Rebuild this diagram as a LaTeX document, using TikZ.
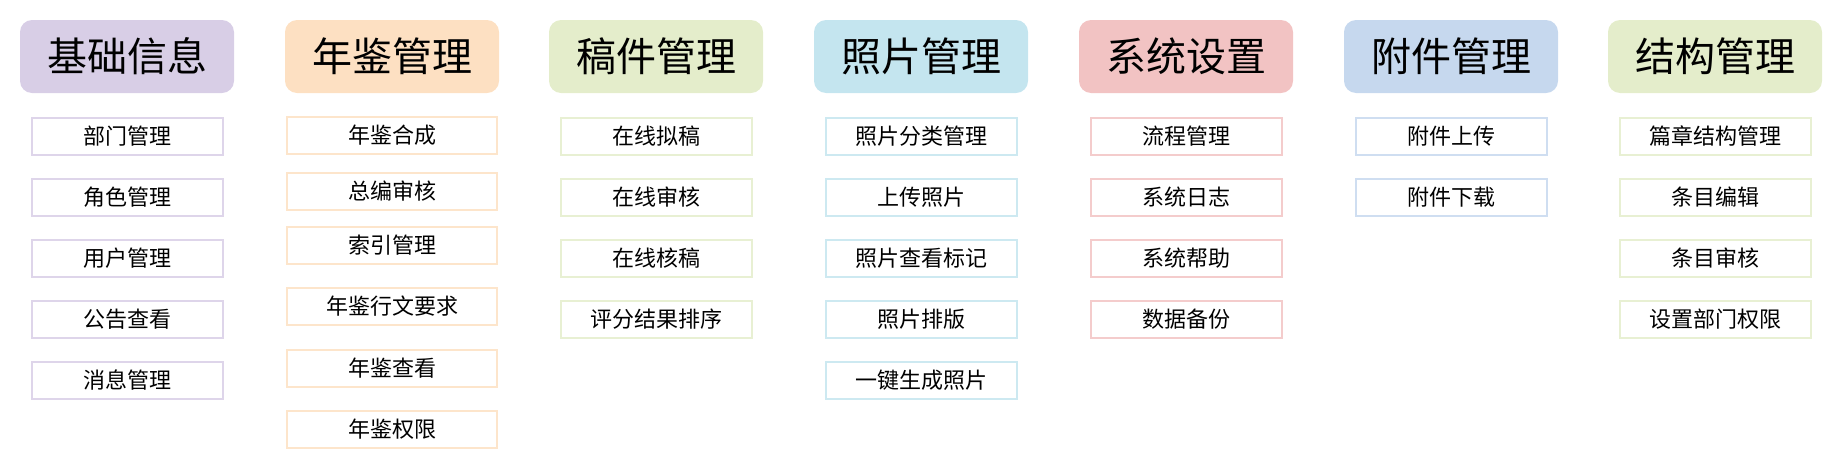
\documentclass[tikz,border=0pt]{standalone}
\usepackage{fontspec}
\newfontfamily\cjk{Noto Sans CJK SC}

\definecolor{infocol}{RGB}{216,206,230}
\definecolor{yearcol}{RGB}{253,224,194}
\definecolor{draftcol}{RGB}{228,237,203}
\definecolor{photocol}{RGB}{196,229,239}
\definecolor{syscol}{RGB}{242,195,195}
\definecolor{attachcol}{RGB}{198,216,238}
\definecolor{structcol}{RGB}{228,237,203}

\tikzset{
  header/.style = {fill = #1, rounded corners = 12pt, minimum width = 214pt,
                   minimum height = 73pt, inner sep = 0pt,
                   font = \cjk\fontsize{40}{44}\selectfont},
  item/.style   = {draw = #1!85, line width = 2pt, fill = white,
                   minimum width = 191pt, minimum height = 37pt, inner sep = 0pt,
                   font = \cjk\fontsize{22}{26}\selectfont},
  wideitem/.style = {item = #1, minimum width = 210pt}
}

\begin{document}
\begin{tikzpicture}[x = 1pt, y = -1pt]
        \useasboundingbox (0,0) rectangle (1847,464);

        % column 1
        \node[header = infocol] (info) at (127,56.5) {基础信息};
        \node[item = infocol] (info1) at (127,136) {部门管理};
        \node[item = infocol] (info2) at (127,197) {角色管理};
        \node[item = infocol] (info3) at (127,258) {用户管理};
        \node[item = infocol] (info4) at (127,319) {公告查看};
        \node[item = infocol] (info5) at (127,380) {消息管理};

        % column 2 (wider boxes, uneven rows)
        \node[header = yearcol] (year) at (392,56.5) {年鉴管理};
        \node[wideitem = yearcol] (year1) at (392,135.5) {年鉴合成};
        \node[wideitem = yearcol] (year2) at (392,191.5) {总编审核};
        \node[wideitem = yearcol] (year3) at (392,245.5) {索引管理};
        \node[wideitem = yearcol] (year4) at (392,306.5) {年鉴行文要求};
        \node[wideitem = yearcol] (year5) at (392,368.5) {年鉴查看};
        \node[wideitem = yearcol] (year6) at (392,429.5) {年鉴权限};

        % column 3
        \node[header = draftcol] (draft) at (656,56.5) {稿件管理};
        \node[item = draftcol] (draft1) at (656,136) {在线拟稿};
        \node[item = draftcol] (draft2) at (656,197) {在线审核};
        \node[item = draftcol] (draft3) at (656,258) {在线核稿};
        \node[item = draftcol] (draft4) at (656,319) {评分结果排序};

        % column 4
        \node[header = photocol] (photo) at (921,56.5) {照片管理};
        \node[item = photocol] (photo1) at (921,136) {照片分类管理};
        \node[item = photocol] (photo2) at (921,197) {上传照片};
        \node[item = photocol] (photo3) at (921,258) {照片查看标记};
        \node[item = photocol] (photo4) at (921,319) {照片排版};
        \node[item = photocol] (photo5) at (921,380) {一键生成照片};

        % column 5
        \node[header = syscol] (sys) at (1186,56.5) {系统设置};
        \node[item = syscol] (sys1) at (1186,136) {流程管理};
        \node[item = syscol] (sys2) at (1186,197) {系统日志};
        \node[item = syscol] (sys3) at (1186,258) {系统帮助};
        \node[item = syscol] (sys4) at (1186,319) {数据备份};

        % column 6
        \node[header = attachcol] (attach) at (1451,56.5) {附件管理};
        \node[item = attachcol] (attach1) at (1451,136) {附件上传};
        \node[item = attachcol] (attach2) at (1451,197) {附件下载};

        % column 7
        \node[header = structcol] (struct) at (1715,56.5) {结构管理};
        \node[item = structcol] (struct1) at (1715,136) {篇章结构管理};
        \node[item = structcol] (struct2) at (1715,197) {条目编辑};
        \node[item = structcol] (struct3) at (1715,258) {条目审核};
        \node[item = structcol] (struct4) at (1715,319) {设置部门权限};
    \end{tikzpicture}
\end{document}
